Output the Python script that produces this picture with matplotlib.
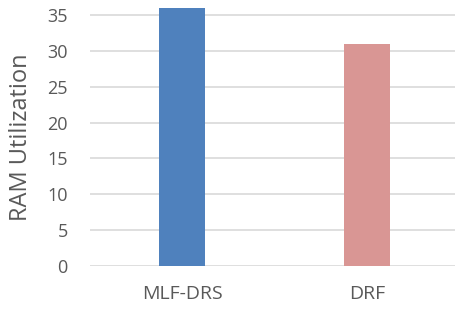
import matplotlib
matplotlib.use("Agg")
import matplotlib.pyplot as plt

categories = ["MLF-DRS", "DRF"]
ram_util = [36, 31]
colors = ["#4F81BD", "#D99694"]

TXT = "#595959"
GRID = "#D9D9D9"
plt.rcParams["font.family"] = ["Open Sans", "DejaVu Sans"]

fig = plt.figure(figsize=(4.55, 3.09), dpi=100)
ax = fig.add_axes([90 / 455, 43.3 / 309, 369 / 455, 264 / 309])
ax.bar(range(len(categories)), ram_util, width=0.25, color=colors, zorder=3)
ax.set_xlim(-0.5, 1.5)
ax.set_ylim(0, 36.9)
ax.set_yticks(range(0, 36, 5))
ax.set_xticks(range(len(categories)))
ax.set_xticklabels(categories)
ax.tick_params(length=0, colors=TXT)
ax.tick_params(axis="y", labelsize=13, pad=16)
ax.tick_params(axis="x", labelsize=14, pad=14)
ax.grid(axis="y", color=GRID, linewidth=1.2, zorder=0)
for s in ax.spines.values():
    s.set_visible(False)
ax.set_ylabel("RAM Utilization", fontsize=17, color=TXT, va="center")
ax.yaxis.set_label_coords(-0.187, 0.486)

fig.savefig("out.png", dpi=100, facecolor="white")
